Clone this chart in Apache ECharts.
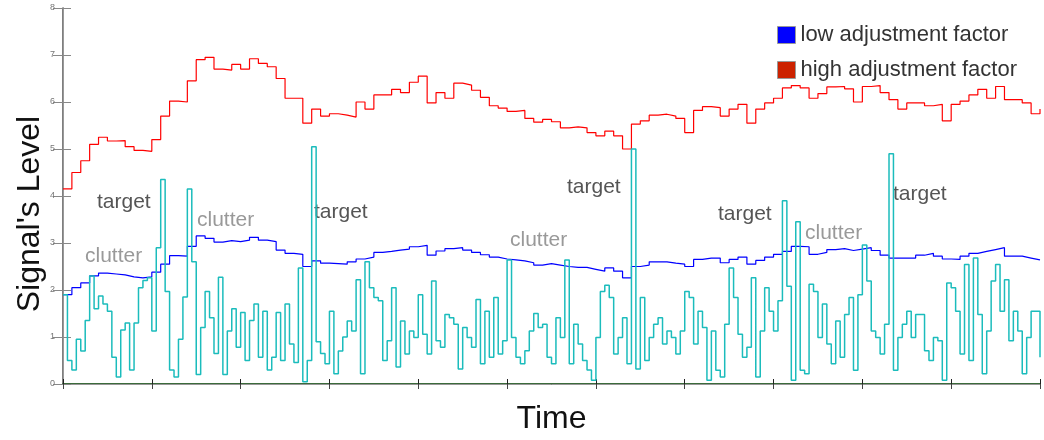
<!DOCTYPE html>
<html>
<head>
<meta charset="utf-8">
<script src="https://cdn.jsdelivr.net/npm/echarts@6/dist/echarts.min.js"></script>
<style>
  html, body { margin: 0; padding: 0; background: #fff; }
  #chart { width: 1044px; height: 440px; }
</style>
</head>
<body>
<div id="chart"></div>
<script>
// high adjustment factor threshold, one sample every 0.1 time unit
const highLevel = [
  4.15,4.5,4.75,5.1,5.25,5.17,5.18,5.05,4.97,4.95,
  5.2,5.7,6.02,6.0,6.45,6.9,6.95,6.7,6.68,6.8,
  6.7,6.92,6.82,6.75,6.5,6.08,6.08,5.55,5.85,5.7,
  5.75,5.72,5.68,6.0,5.85,6.15,6.15,6.27,6.2,6.42,
  6.55,5.98,6.2,6.08,6.4,6.36,6.25,6.1,5.92,5.87,
  5.8,5.82,5.65,5.57,5.63,5.58,5.45,5.47,5.45,5.35,
  5.28,5.38,5.28,5.0,5.53,5.6,5.72,5.74,5.7,5.65,
  5.35,5.82,5.9,5.88,5.7,5.85,5.95,5.55,5.85,5.98,
  6.08,6.3,6.35,6.3,6.08,6.18,6.32,6.33,6.28,6.0,
  6.33,6.35,6.2,6.05,5.85,5.98,5.98,5.92,5.95,5.6,
  5.95,6.02,6.15,6.27,6.08,6.33,6.05,6.05,5.98,5.75,
  5.85
];

// low adjustment factor threshold, one sample every 0.1 time unit
const lowLevel = [
  1.9,2.05,2.15,2.3,2.36,2.34,2.32,2.28,2.26,2.28,
  2.38,2.55,2.73,2.72,2.93,3.15,3.1,3.02,3.05,3.03,
  3.06,3.12,3.06,3.03,2.85,2.78,2.76,2.5,2.62,2.57,
  2.56,2.55,2.6,2.66,2.7,2.8,2.82,2.85,2.87,2.92,
  2.95,2.74,2.83,2.88,2.9,2.85,2.8,2.75,2.7,2.66,
  2.64,2.62,2.58,2.53,2.56,2.53,2.5,2.48,2.48,2.44,
  2.4,2.47,2.4,2.26,2.5,2.53,2.6,2.6,2.57,2.55,
  2.5,2.65,2.68,2.68,2.58,2.65,2.7,2.55,2.63,2.7,
  2.76,2.82,2.93,2.92,2.76,2.8,2.86,2.88,2.84,2.87,
  2.9,2.84,2.74,2.68,2.68,2.68,2.74,2.78,2.72,2.66,
  2.65,2.72,2.78,2.82,2.86,2.9,2.72,2.72,2.68,2.64,
  2.64
];

// received signal, one sample every 0.05 time unit
const signal = [
  1.9,0.5,0.3,0.95,0.7,1.35,2.3,1.6,1.87,1.7,
  1.55,0.57,0.15,1.15,1.3,0.3,1.3,2.05,2.2,2.26,
  1.13,2.9,4.35,1.97,0.3,0.15,0.95,1.85,4.15,2.6,
  0.2,1.2,1.97,1.41,0.65,2.27,0.2,1.13,1.6,0.78,
  1.52,0.5,1.35,1.7,0.57,1.55,0.3,0.57,1.52,0.5,
  1.7,0.85,0.46,2.47,0.05,0.5,5.05,0.9,0.65,0.43,
  1.55,0.22,0.7,1.0,1.34,1.13,2.22,0.22,2.6,2.05,
  1.84,1.77,0.5,0.92,2.05,0.36,1.34,0.64,1.13,0.99,
  1.9,1.06,0.64,2.19,0.92,0.78,1.48,1.41,1.27,0.32,
  1.2,0.99,0.78,1.8,0.43,1.55,0.57,1.84,0.64,0.92,
  2.64,0.99,0.57,0.43,0.71,1.13,1.5,1.2,1.27,0.57,
  0.43,1.41,0.99,2.64,0.43,1.27,0.85,0.5,0.3,0.08,
  0.99,1.97,2.1,1.84,0.64,0.99,1.41,0.43,5.0,0.32,
  1.84,0.5,0.99,1.27,1.41,0.85,1.13,0.99,0.64,1.13,
  1.97,1.84,0.85,1.55,1.2,0.08,1.13,0.29,0.15,1.27,
  2.47,1.84,1.06,0.57,0.78,2.26,0.15,1.13,2.05,1.55,
  1.13,1.77,3.9,2.08,0.08,3.45,0.29,0.22,2.12,1.97,
  0.99,1.7,0.85,0.43,1.34,0.57,1.48,1.84,0.29,1.9,
  2.96,2.19,1.13,0.99,0.64,1.27,4.9,0.29,0.99,1.27,
  1.55,0.99,1.48,1.48,0.71,0.5,0.99,0.92,0.08,2.15,
  2.05,1.55,0.64,2.54,0.5,2.68,1.48,0.22,1.13,2.19,
  2.54,1.55,2.22,0.92,1.55,1.13,0.22,0.99,1.55,1.55,
  0.57
];

const legendNames = ['low adjustment factor', 'high adjustment factor'];
const notes = ['target', 'clutter', 'clutter', 'target', 'clutter', 'target', 'target', 'clutter', 'target'];

const chart = echarts.init(document.getElementById('chart'));
const font = 'Liberation Sans, Arial, sans-serif';

// where each note sits on the page (left x, middle y)
const notePos = [[97, 202], [85, 256], [197, 220], [314, 212], [510, 240], [567, 187], [718, 214], [805, 233], [893, 194]];

const option = {
  animation: false,
  grid: { left: 63, right: 4, top: 8, bottom: 53 },
  legend: {
    orient: 'vertical',
    left: 777,
    top: 24,
    padding: 0,
    itemWidth: 18,
    itemHeight: 17,
    itemGap: 13,
    itemTextGap: 12,
    textStyle: { fontSize: 22, color: '#333', fontFamily: font },
    data: [
      { name: legendNames[0], icon: 'rect', itemStyle: { color: '#0000ff', borderColor: '#999', borderWidth: 1 } },
      { name: legendNames[1], icon: 'rect', itemStyle: { color: '#cc2200', borderColor: '#999', borderWidth: 1 } }
    ]
  },
  xAxis: [
    {
      type: 'value', min: 0, max: 11, interval: 1, position: 'bottom',
      axisLine: { lineStyle: { color: '#3b6b3b', width: 2 } },
      axisTick: { inside: true, length: 5, lineStyle: { color: '#222' } },
      axisLabel: { show: false },
      splitLine: { show: false },
      name: 'Time', nameLocation: 'middle', nameGap: 19,
      nameTextStyle: { fontSize: 32, color: '#111', fontFamily: font }
    },
    {
      type: 'value', min: 0, max: 11, interval: 1, position: 'top',
      axisLine: { lineStyle: { color: '#999', width: 1 } },
      axisTick: { inside: true, length: 5, lineStyle: { color: '#444' } },
      axisLabel: { show: false },
      splitLine: { show: false }
    }
  ],
  yAxis: [
    {
      type: 'value', min: 0, max: 8, interval: 1, position: 'left',
      axisLine: { show: true, lineStyle: { color: '#555', width: 1.5 } },
      axisTick: { show: true, inside: true, length: 8, lineStyle: { color: '#888' } },
      axisLabel: { fontSize: 9, color: '#777', margin: 8, fontFamily: font },
      splitLine: { show: false }
    },
    {
      type: 'value', min: 0, max: 8, interval: 1, position: 'right',
      axisLine: { show: true, lineStyle: { color: '#999', width: 1 } },
      axisTick: { show: true, inside: true, length: 10, lineStyle: { color: '#888' } },
      axisLabel: { show: false },
      splitLine: { show: false }
    }
  ],
  series: [
    {
      name: legendNames[0], type: 'line', step: 'end', symbol: 'none',
      lineStyle: { color: '#0000ff', width: 1.2 }, itemStyle: { color: '#0000ff' },
      data: lowLevel.map((v, i) => [i * 0.1, v])
    },
    {
      name: legendNames[1], type: 'line', step: 'end', symbol: 'none',
      lineStyle: { color: '#ff0000', width: 1.2 }, itemStyle: { color: '#ff0000' },
      data: highLevel.map((v, i) => [i * 0.1, v])
    },
    {
      name: 'signal', type: 'line', step: 'end', symbol: 'none',
      lineStyle: { color: '#1bbcbc', width: 1.5 },
      data: signal.map((v, i) => [i * 0.05, v])
    }
  ],
  graphic: [
    {
      type: 'text', x: 30, y: 214, rotation: Math.PI / 2,
      style: { text: "Signal's Level", fontSize: 32, fill: '#111', fontFamily: font, align: 'center', verticalAlign: 'middle' }
    }
  ].concat(notes.map((t, i) => ({
    type: 'text', x: notePos[i][0], y: notePos[i][1],
    style: {
      text: t, fontSize: 21, fontFamily: font, verticalAlign: 'middle',
      fill: t === 'target' ? '#555' : '#999'
    }
  })))
};

chart.setOption(option);
</script>
</body>
</html>
